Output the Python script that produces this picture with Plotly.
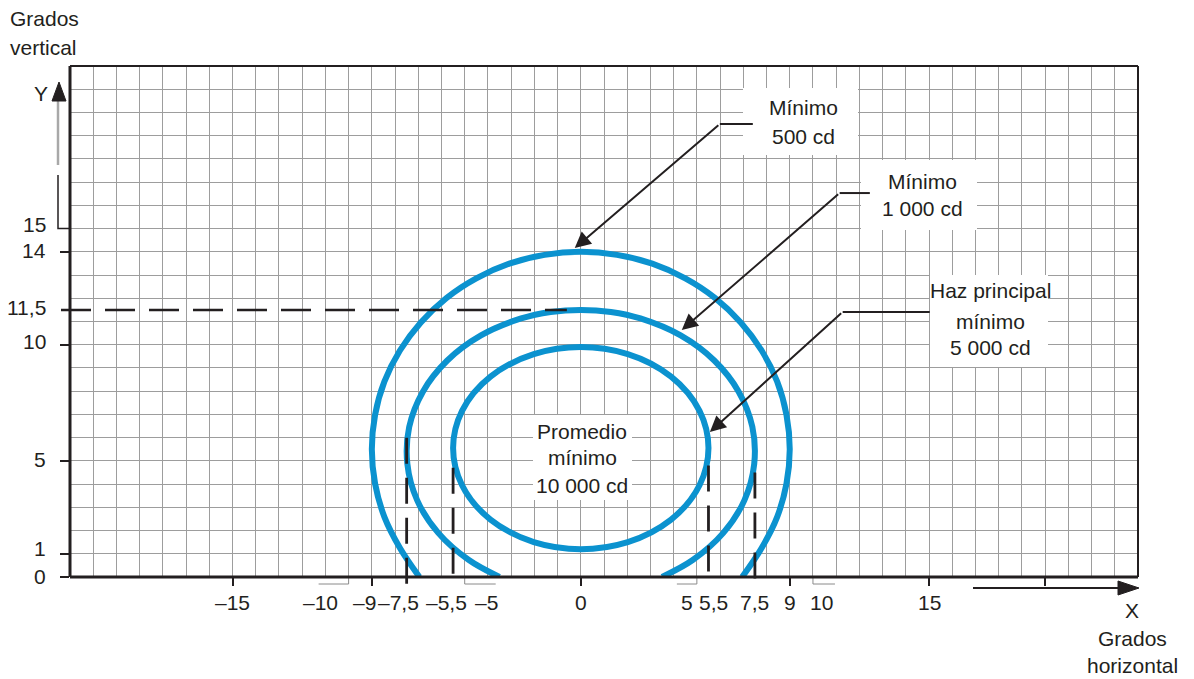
import plotly.graph_objects as go

# ---------------- data ----------------
x_range = [-22, 24]
y_range = [0, 22]

# 500 cd contour (open at the bottom)
outer_x = [-6.95, -7.79, -8.46, -8.86, -9.0, -8.86, -8.46, -7.79, -6.89, -5.79, -4.5, -3.08, -1.56, 0.0,
           1.56, 3.08, 4.5, 5.79, 6.89, 7.79, 8.46, 8.86, 9.0, 8.86, 8.46, 7.79, 6.95]
outer_y = [0.0, 1.25, 2.59, 4.02, 5.5, 6.98, 8.41, 9.75, 10.96, 12.01, 12.86, 13.49, 13.87, 14.0,
           13.87, 13.49, 12.86, 12.01, 10.96, 9.75, 8.41, 6.98, 5.5, 4.02, 2.59, 1.25, 0.0]

# 1 000 cd contour (open at the bottom)
middle_x = [-3.5, -4.82, -6.14, -7.05, -7.47, -7.39, -6.8, -5.75, -4.3, -2.57, -1.3, 0.0,
            1.3, 2.57, 4.3, 5.75, 6.8, 7.39, 7.47, 7.05, 6.14, 4.82, 3.5]
middle_y = [0.0, 0.73, 1.9, 3.31, 4.87, 6.46, 7.98, 9.32, 10.4, 11.13, 11.41, 11.5,
            11.41, 11.13, 10.4, 9.32, 7.98, 6.46, 4.87, 3.31, 1.9, 0.73, 0.0]

# 5 000 cd contour (closed ellipse) bounds
inner_x = [-5.5, 5.5]
inner_y = [1.2, 9.9]

# axis ticks / labels
x_tick_vals = [-15, -9, 0, 9, 15, 20]
y_tick_vals = [0, 1, 5, 10, 14]
x_label_vals = [-15, -10, -9, -7.5, -5.5, -5, 0, 5, 5.5, 7.5, 9, 10, 15]
x_label_text = ["–15", "–10", "–9", "–7,5", "–5,5", "–5", "0", "5", "5,5", "7,5", "9", "10", "15"]
y_label_vals = [15, 14, 11.5, 10, 5, 1, 0]
y_label_text = ["15", "14", "11,5", "10", "5", "1", "0"]
bracket_vals = [-10, -5, 5, 10]

# dashed guide lines
guide_x = [-7.5, -5.5, 5.5, 7.5]
guide_top = [6.0, 4.7, 4.8, 4.5]
guide_level_y = 11.5
guide_level_end_x = -0.6

# callouts
callout_text = [["Mínimo", "500 cd"],
                ["Mínimo", "1 000 cd"],
                ["Haz principal", "mínimo", "5 000 cd"]]
arrow_tip_x = [-0.26, 4.35, 5.56]
arrow_tip_y = [14.16, 10.63, 6.24]
elbow_x = [5.99, 11.15, 11.28]
elbow_y = [19.5, 16.53, 11.41]
leader_end_x = [7.41, 12.45, 15.03]
center_text = ["Promedio", "mínimo", "10 000 cd"]

# ---------------- styling helpers ----------------
W_FIG, H_FIG = 1194, 679
L, T, W, H = 70, 66, 1068, 511          # plot area in pixels


def px_x(p):
    return (p - L) / W


def px_y(p):
    return (T + H - p) / H


BLUE = "#0b92cf"
INK = "#231f20"
GRID = "#9d9d9d"
FONT = dict(family="Liberation Sans, Arial, sans-serif", size=21, color=INK)

fig = go.Figure()

fig.add_trace(go.Scatter(x=outer_x, y=outer_y, mode="lines",
                         line=dict(color=BLUE, width=6, shape="spline", smoothing=1.0),
                         hoverinfo="skip"))
fig.add_trace(go.Scatter(x=middle_x, y=middle_y, mode="lines",
                         line=dict(color=BLUE, width=6, shape="spline", smoothing=1.0),
                         hoverinfo="skip"))

shapes = []
# inner closed contour
shapes.append(dict(type="circle", xref="x", yref="y",
                   x0=inner_x[0], x1=inner_x[1], y0=inner_y[0], y1=inner_y[1],
                   line=dict(color=BLUE, width=6), layer="above"))

# white boxes behind labels (pixel rects)
for (x0, x1, y0, y1) in [(743, 858, 88, 155), (861, 977, 160, 230),
                         (930, 1048, 275, 367), (533, 632, 415, 500)]:
    shapes.append(dict(type="rect", xref="paper", yref="paper",
                       x0=px_x(x0), x1=px_x(x1), y0=px_y(y1), y1=px_y(y0),
                       fillcolor="white", line=dict(width=0), layer="above"))

# dashed horizontal guide at 11.5
shapes.append(dict(type="line", xref="paper", yref="y",
                   x0=px_x(61), x1=px_x(L + (guide_level_end_x - x_range[0]) * W / (x_range[1] - x_range[0])),
                   y0=guide_level_y, y1=guide_level_y,
                   line=dict(color=INK, width=2.5, dash="30px,14px"), layer="above"))

# dashed vertical guides (drawn from the top down so the dash pattern starts at the top)
for gx, gt in zip(guide_x, guide_top):
    shapes.append(dict(type="line", xref="x", yref="y domain",
                       x0=gx, x1=gx, y0=gt / (y_range[1] - y_range[0]), y1=-7 / H,
                       line=dict(color=INK, width=2.8, dash="26px,14px"), layer="above"))

# light brackets under axis at +-5, +-10
bracket_len = {-10: -30, -5: 31, 5: -20, 10: 22}
for bv in bracket_vals:
    shapes.append(dict(type="line", xref="x", yref="paper", x0=bv, x1=bv,
                       y0=px_y(577), y1=px_y(584), line=dict(color="#8a8a8a", width=1), layer="above"))
    shapes.append(dict(type="line", xref="x", yref="paper",
                       x0=bv, x1=bv + bracket_len[bv] * (x_range[1] - x_range[0]) / W,
                       y0=px_y(584), y1=px_y(584), line=dict(color="#8a8a8a", width=1), layer="above"))

# leader horizontals
for ex, ey, le in zip(elbow_x, elbow_y, leader_end_x):
    shapes.append(dict(type="line", xref="x", yref="y", x0=ex, x1=le, y0=ey, y1=ey,
                       line=dict(color=INK, width=2), layer="above"))

# frame
shapes.append(dict(type="line", xref="paper", yref="paper", x0=0, x1=1, y0=1, y1=1,
                   line=dict(color=INK, width=2), layer="above"))
shapes.append(dict(type="line", xref="paper", yref="paper", x0=1, x1=1, y0=0, y1=1,
                   line=dict(color=INK, width=2), layer="above"))
shapes.append(dict(type="line", xref="paper", yref="paper", x0=0, x1=0, y0=0, y1=1,
                   line=dict(color=INK, width=3), layer="above"))
shapes.append(dict(type="line", xref="paper", yref="paper", x0=0, x1=1, y0=0, y1=0,
                   line=dict(color=INK, width=3), layer="above"))

# "15" L-shaped tick on the y axis
shapes.append(dict(type="path", xref="paper", yref="paper",
                   path=f"M {px_x(58)} {px_y(175)} L {px_x(58)} {px_y(228.5)} L {px_x(70)} {px_y(228.5)}",
                   line=dict(color=INK, width=1.5), layer="above"))

# Y axis arrow (gray shaft, black head)
shapes.append(dict(type="line", xref="paper", yref="paper", x0=px_x(58), x1=px_x(58),
                   y0=px_y(165), y1=px_y(100), line=dict(color="#a8a8a8", width=2.5), layer="above"))
shapes.append(dict(type="path", xref="paper", yref="paper",
                   path=f"M {px_x(59)} {px_y(82)} L {px_x(52)} {px_y(101)} L {px_x(66)} {px_y(101)} Z",
                   fillcolor=INK, line=dict(color=INK, width=1), layer="above"))

# X axis arrow
shapes.append(dict(type="line", xref="paper", yref="paper", x0=px_x(973), x1=px_x(1122),
                   y0=px_y(588), y1=px_y(588), line=dict(color=INK, width=2), layer="above"))
shapes.append(dict(type="path", xref="paper", yref="paper",
                   path=f"M {px_x(1139)} {px_y(588)} L {px_x(1118)} {px_y(581)} L {px_x(1118)} {px_y(595)} Z",
                   fillcolor=INK, line=dict(color=INK, width=1), layer="above"))

annotations = []

# arrows of the callouts
for tx, ty, ex, ey in zip(arrow_tip_x, arrow_tip_y, elbow_x, elbow_y):
    annotations.append(dict(x=tx, y=ty, xref="x", yref="y", ax=ex, ay=ey, axref="x", ayref="y",
                            text="", showarrow=True, arrowhead=2, arrowsize=1.6, arrowwidth=2,
                            arrowcolor=INK, standoff=0))

# callout text lines (pixel centres)
callout_pos = [[(803, 107), (803, 136)],
               [(922, 181), (922, 208)],
               [(990, 290), (990, 321), (990, 347)]]
for lines, poss in zip(callout_text, callout_pos):
    for t, (cx, cy) in zip(lines, poss):
        annotations.append(dict(x=px_x(cx), y=px_y(cy), xref="paper", yref="paper", text=t,
                                showarrow=False, font=FONT, xanchor="center", yanchor="middle"))

for t, (cx, cy) in zip(center_text, [(582, 431), (582, 457), (582, 485)]):
    annotations.append(dict(x=px_x(cx), y=px_y(cy), xref="paper", yref="paper", text=t,
                            showarrow=False, font=FONT, xanchor="center", yanchor="middle"))

# x tick labels
x_shift = [0, -28, -7, -8, -7, 22, 0, -10, 5, 0, 0, 9, 0]
for v, t, s in zip(x_label_vals, x_label_text, x_shift):
    annotations.append(dict(x=v, y=px_y(602), xref="x", yref="paper", text=t, xshift=s,
                            showarrow=False, font=FONT, xanchor="center", yanchor="middle"))

# y tick labels
y_shift = [4, 1, 2, 3, 1, 5, 1]
for v, t, s in zip(y_label_vals, y_label_text, y_shift):
    annotations.append(dict(x=px_x(48), y=v, xref="paper", yref="y", text=t, yshift=s,
                            showarrow=False, font=FONT, xanchor="right", yanchor="middle"))

# axis titles
annotations += [
    dict(x=px_x(8), y=px_y(18), xref="paper", yref="paper", text="Grados", showarrow=False,
         font=FONT, xanchor="left", yanchor="middle"),
    dict(x=px_x(8), y=px_y(48), xref="paper", yref="paper", text="vertical", showarrow=False,
         font=FONT, xanchor="left", yanchor="middle"),
    dict(x=px_x(41), y=px_y(93), xref="paper", yref="paper", text="Y", showarrow=False,
         font=FONT, xanchor="center", yanchor="middle"),
    dict(x=px_x(1132), y=px_y(610), xref="paper", yref="paper", text="X", showarrow=False,
         font=FONT, xanchor="center", yanchor="middle"),
    dict(x=px_x(1132), y=px_y(638), xref="paper", yref="paper", text="Grados", showarrow=False,
         font=FONT, xanchor="center", yanchor="middle"),
    dict(x=px_x(1132), y=px_y(665), xref="paper", yref="paper", text="horizontal", showarrow=False,
         font=FONT, xanchor="center", yanchor="middle"),
]

axis_common = dict(showline=False, zeroline=False, showticklabels=False,
                   ticks="outside", tickwidth=2, tickcolor=INK,
                   showgrid=True, gridcolor=GRID, gridwidth=1,
                   minor=dict(tick0=0, dtick=1, showgrid=True, gridcolor=GRID, gridwidth=1, ticks=""))

fig.update_layout(
    width=W_FIG, height=H_FIG,
    margin=dict(l=L, r=W_FIG - L - W, t=T, b=H_FIG - T - H, pad=0),
    paper_bgcolor="white", plot_bgcolor="white",
    showlegend=False,
    xaxis=dict(range=x_range, tickmode="array", tickvals=x_tick_vals, ticklen=8, **axis_common),
    yaxis=dict(range=y_range, tickmode="array", tickvals=y_tick_vals, ticklen=9, **axis_common),
    shapes=shapes,
    annotations=annotations,
)

fig.write_html("out.html", config={"displayModeBar": False},
               post_script="document.body.style.margin='0';document.body.style.overflow='hidden';")
